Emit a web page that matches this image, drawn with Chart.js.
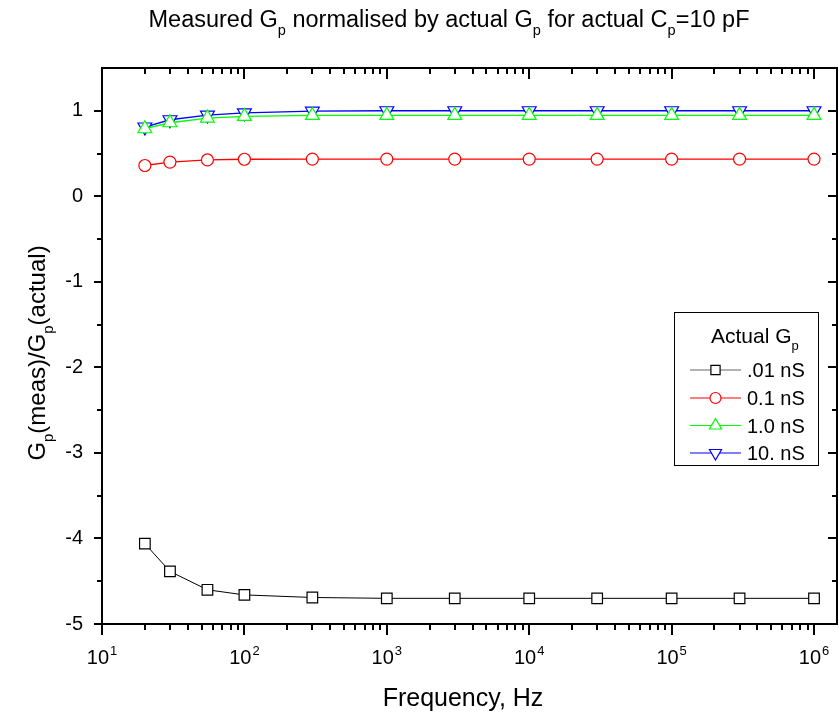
<!DOCTYPE html>
<html>
<head>
<meta charset="utf-8">
<title>Measured Gp normalised by actual Gp</title>
<script src="https://cdn.jsdelivr.net/npm/chart.js@4.4.1/dist/chart.umd.min.js"></script>
<style>
    html, body { margin: 0; padding: 0; background: #fff; overflow: hidden; }
    #wrap { width: 839px; height: 716px; }
    #gpChart { display: block; }
</style>
</head>
<body>
<div id="wrap"><canvas id="gpChart" width="839" height="716"></canvas></div>
<script>
// Frequency points (Hz)
const freqHz = [20, 30, 55, 100, 300, 1000, 3000, 10000, 30000, 100000, 300000, 1000000];

// Measured Gp / actual Gp for each actual Gp value
const gp001nS = [-4.06, -4.385, -4.60, -4.66, -4.69, -4.70, -4.70, -4.70, -4.70, -4.70, -4.70, -4.70];
const gp01nS  = [0.36, 0.40, 0.425, 0.433, 0.435, 0.435, 0.435, 0.435, 0.435, 0.435, 0.435, 0.435];
const gp1nS   = [0.79, 0.86, 0.915, 0.935, 0.945, 0.946, 0.946, 0.946, 0.946, 0.946, 0.946, 0.946];
const gp10nS  = [0.81, 0.895, 0.95, 0.975, 0.995, 1.0, 1.0, 1.0, 1.0, 1.0, 1.0, 1.0];

const seriesLabels = ['.01 nS', '0.1 nS', '1.0 nS', '10. nS'];

// Axis ticks
const yMajorTicks = [-5, -4, -3, -2, -1, 0, 1];
const yMinorTicks = [-4.5, -3.5, -2.5, -1.5, -0.5, 0.5];
const xDecadeExps = [1, 2, 3, 4, 5, 6];
const xMinorMult = [2, 3, 4, 5, 6, 7, 8, 9];

const FONT = '"Liberation Sans", Arial, sans-serif';

const seriesStyle = [
    { color: '#000000', legendLine: '#666666', pointStyle: 'rect', radius: 7.5, rotation: 0, legendRadius: 6.5 },
    { color: '#ff0000', legendLine: '#ff0000', pointStyle: 'circle', radius: 6, rotation: 0, legendRadius: 5.5 },
    { color: '#00ff00', legendLine: '#00ff00', pointStyle: 'triangle', radius: 8, rotation: 0, legendRadius: 7 },
    { color: '#0000ff', legendLine: '#0000ff', pointStyle: 'triangle', radius: 8, rotation: 180, legendRadius: 7 }
];

function toPoints(values) {
    return freqHz.map((f, i) => ({ x: f, y: values[i] }));
}

// Text with subscript pieces, left aligned at (x, y) baseline
function richWidth(ctx, parts, size) {
    let w = 0;
    parts.forEach(p => {
        ctx.font = (p.sub ? size * 0.62 : size) + 'px ' + FONT;
        w += ctx.measureText(p.t).width;
    });
    return w;
}

function drawRich(ctx, parts, x, y, size) {
    let cx = x;
    parts.forEach(p => {
        const s = p.sub ? size * 0.62 : size;
        ctx.font = s + 'px ' + FONT;
        ctx.fillText(p.t, cx, p.sub ? y + size * 0.33 : y);
        cx += ctx.measureText(p.t).width;
    });
}

const titleParts = [
    { t: 'Measured G' }, { t: 'p', sub: true },
    { t: ' normalised by actual G' }, { t: 'p', sub: true },
    { t: ' for actual C' }, { t: 'p', sub: true },
    { t: '=10 pF' }
];
const yTitleParts = [
    { t: 'G' }, { t: 'p', sub: true }, { t: '(meas)/G' }, { t: 'p', sub: true }, { t: '(actual)' }
];
const legendTitleParts = [{ t: 'Actual G' }, { t: 'p', sub: true }];

// Frame, ticks, labels, titles and legend
const originFrame = {
    id: 'originFrame',
    afterDatasetsDraw(chart) {
        const ctx = chart.ctx;
        const a = chart.chartArea;
        const xs = chart.scales.x;
        const ys = chart.scales.y;

        ctx.save();
        ctx.strokeStyle = '#000';
        ctx.fillStyle = '#000';
        ctx.lineWidth = 2;
        ctx.lineCap = 'butt';

        ctx.strokeRect(a.left, a.top, a.right - a.left, a.bottom - a.top);

        ctx.beginPath();
        // y ticks: outward on left, inward on right
        yMajorTicks.forEach(v => {
            const py = Math.round(ys.getPixelForValue(v));
            ctx.moveTo(a.left - 8, py); ctx.lineTo(a.left, py);
            ctx.moveTo(a.right, py); ctx.lineTo(a.right - 9, py);
        });
        yMinorTicks.forEach(v => {
            const py = Math.round(ys.getPixelForValue(v));
            ctx.moveTo(a.left - 5, py); ctx.lineTo(a.left, py);
            ctx.moveTo(a.right, py); ctx.lineTo(a.right - 5, py);
        });
        // x ticks: outward on bottom, inward on top
        xDecadeExps.forEach(e => {
            const px = Math.round(xs.getPixelForValue(Math.pow(10, e)));
            ctx.moveTo(px, a.bottom); ctx.lineTo(px, a.bottom + 11);
            ctx.moveTo(px, a.top); ctx.lineTo(px, a.top + 11);
            if (e < 6) {
                xMinorMult.forEach(m => {
                    const mx = Math.round(xs.getPixelForValue(m * Math.pow(10, e)));
                    ctx.moveTo(mx, a.bottom); ctx.lineTo(mx, a.bottom + 6);
                    ctx.moveTo(mx, a.top); ctx.lineTo(mx, a.top + 6);
                });
            }
        });
        ctx.stroke();

        // y tick labels
        ctx.font = '20px ' + FONT;
        ctx.textAlign = 'right';
        ctx.textBaseline = 'middle';
        yMajorTicks.forEach(v => {
            ctx.fillText(String(v), a.left - 19, ys.getPixelForValue(v));
        });

        // x tick labels, 10 with superscript exponent
        ctx.textAlign = 'left';
        ctx.textBaseline = 'alphabetic';
        xDecadeExps.forEach(e => {
            const px = xs.getPixelForValue(Math.pow(10, e));
            ctx.font = '20px ' + FONT;
            const wBase = ctx.measureText('10').width;
            ctx.font = '13px ' + FONT;
            const wExp = ctx.measureText(String(e)).width;
            const x0 = px - (wBase + 1 + wExp) / 2;
            ctx.font = '20px ' + FONT;
            ctx.fillText('10', x0, 664);
            ctx.font = '13px ' + FONT;
            ctx.fillText(String(e), x0 + wBase + 1, 655);
        });

        // axis titles
        ctx.font = '25px ' + FONT;
        ctx.textAlign = 'center';
        ctx.fillText('Frequency, Hz', 463, 706);

        ctx.textAlign = 'left';
        const yw = richWidth(ctx, yTitleParts, 24);
        ctx.save();
        ctx.translate(45, 353);
        ctx.rotate(-Math.PI / 2);
        drawRich(ctx, yTitleParts, -yw / 2, 0, 24);
        ctx.restore();

        // chart title
        const tw = richWidth(ctx, titleParts, 23.5);
        drawRich(ctx, titleParts, 449 - tw / 2, 27, 23.5);

        // legend
        const lx = 674.5, ly = 312.5, lw = 144, lh = 153;
        ctx.fillStyle = '#fff';
        ctx.fillRect(lx, ly, lw, lh);
        ctx.lineWidth = 1;
        ctx.strokeStyle = '#000';
        ctx.strokeRect(lx, ly, lw, lh);
        ctx.fillStyle = '#000';
        drawRich(ctx, legendTitleParts, 711, 343, 21);

        const rowBase = [377, 405, 432.5, 460];
        seriesStyle.forEach((s, i) => {
            const cy = rowBase[i] - 7;
            ctx.strokeStyle = s.legendLine;
            ctx.lineWidth = 1.2;
            ctx.beginPath();
            ctx.moveTo(690, cy); ctx.lineTo(741, cy);
            ctx.stroke();
            ctx.fillStyle = '#fff';
            ctx.strokeStyle = s.color;
            Chart.helpers.drawPoint(ctx, {
                pointStyle: s.pointStyle,
                radius: s.legendRadius,
                rotation: s.rotation,
                borderWidth: 1.2
            }, 715.5, cy);
            ctx.fillStyle = '#000';
            ctx.font = '20px ' + FONT;
            ctx.fillText(seriesLabels[i], 747, rowBase[i]);
        });

        ctx.restore();
    }
};

const seriesValues = [gp001nS, gp01nS, gp1nS, gp10nS];

const datasets = seriesValues.map((vals, i) => {
    const s = seriesStyle[i];
    return {
        label: seriesLabels[i],
        data: toPoints(vals),
        borderColor: s.color,
        borderWidth: i === 0 ? 1 : 1.3,
        pointStyle: s.pointStyle,
        pointRadius: s.radius,
        pointRotation: s.rotation,
        pointBorderColor: s.color,
        pointBackgroundColor: '#fff',
        pointBorderWidth: 1.2,
        tension: 0,
        fill: false
    };
});

new Chart(document.getElementById('gpChart').getContext('2d'), {
    type: 'line',
    data: { datasets: datasets },
    options: {
        responsive: false,
        devicePixelRatio: 1,
        animation: false,
        layout: {
            autoPadding: false,
            padding: { left: 102, right: 2, top: 68, bottom: 92 }
        },
        plugins: {
            legend: { display: false },
            title: { display: false },
            tooltip: { enabled: false }
        },
        scales: {
            x: { type: 'logarithmic', min: 10, max: 1450000, display: false },
            y: { type: 'linear', min: -5, max: 1.5, display: false }
        }
    },
    plugins: [originFrame]
});
</script>
</body>
</html>
